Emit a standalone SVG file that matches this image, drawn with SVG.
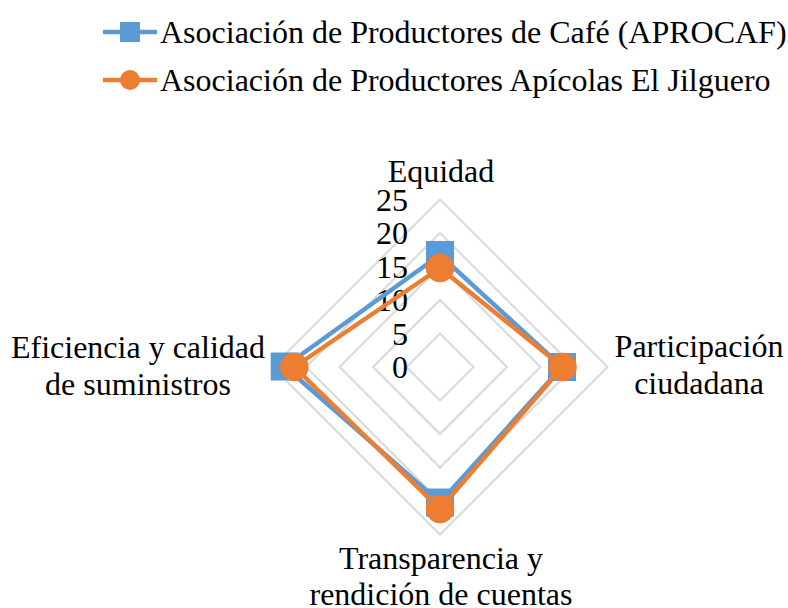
<svg xmlns="http://www.w3.org/2000/svg" width="788" height="608" viewBox="0 0 788 608">
<style>
.t{font-size:32px;fill:#000}
.grid{fill:none;stroke:#D9D9D9;stroke-width:2}
.blue{fill:none;stroke:#5B9BD5;stroke-width:4.5;stroke-linejoin:round}
.orange{fill:none;stroke:#ED7D31;stroke-width:4.5;stroke-linejoin:round}
.bm{fill:#5B9BD5}
.om{fill:#ED7D31}
.num{text-anchor:end}
.lab{text-anchor:middle}
</style>
<rect width="788" height="608" fill="#fff"/>
<g font-family="'Liberation Serif', 'Times New Roman', serif">
<g id="legend">
<g id="legend-aprocaf">
<line x1="103" y1="32" x2="157" y2="32" class="blue"/>
<rect x="120" y="22" width="20" height="20" class="bm"/>
<text class="t" x="160" y="43">Asociación de Productores de Café (APROCAF)</text>
</g>
<g id="legend-jilguero">
<line x1="103" y1="80" x2="157" y2="80" class="orange"/>
<circle cx="130" cy="80" r="10" class="om"/>
<text class="t" x="160" y="91">Asociación de Productores Apícolas El Jilguero</text>
</g>
</g>
<g id="grid">
<polygon class="grid" points="440,333.5 473.5,367 440,400.5 406.5,367"/>
<polygon class="grid" points="440,300 507,367 440,434 373,367"/>
<polygon class="grid" points="440,266.5 540.5,367 440,467.5 339.5,367"/>
<polygon class="grid" points="440,233 574,367 440,501 306,367"/>
<polygon class="grid" points="440,199.5 607.5,367 440,534.5 272.5,367"/>
</g>
<g id="axis-values">
<text class="t num" x="408" y="378">0</text>
<text class="t num" x="408" y="344.5">5</text>
<text class="t num" x="408" y="311">10</text>
<text class="t num" x="408" y="277.5">15</text>
<text class="t num" x="408" y="244">20</text>
<text class="t num" x="408" y="210.5">25</text>
</g>
<g id="axis-labels">
<g id="label-equidad"><text class="t lab" x="441" y="182">Equidad</text></g>
<g id="label-participacion"><text class="t lab" x="699" y="357">Participación</text><text class="t lab" x="699" y="394">ciudadana</text></g>
<g id="label-transparencia"><text class="t lab" x="441" y="569">Transparencia y</text><text class="t lab" x="441" y="605">rendición de cuentas</text></g>
<g id="label-eficiencia"><text class="t lab" x="138" y="358">Eficiencia y calidad</text><text class="t lab" x="138" y="395">de suministros</text></g>
</g>
<g id="connectors">
<polygon class="blue" points="440,255 562,367 440,502.5 284.7,366.5"/>
<g id="markers-aprocaf">
<rect class="bm" x="426" y="241" width="28" height="28"/>
<rect class="bm" x="548" y="353" width="28" height="28"/>
<rect class="bm" x="426" y="488.5" width="28" height="28"/>
<rect class="bm" x="270.7" y="352.5" width="28" height="28"/>
</g>
<polygon class="orange" points="440,268 562.5,367 440,509 294.3,367"/>
<g id="markers-jilguero">
<circle class="om" cx="440" cy="268" r="14.3"/>
<circle class="om" cx="562.5" cy="367" r="14.3"/>
<circle class="om" cx="440" cy="509" r="14.3"/>
<circle class="om" cx="294.3" cy="367" r="14.3"/>
</g>
</g>
</g>
</svg>
